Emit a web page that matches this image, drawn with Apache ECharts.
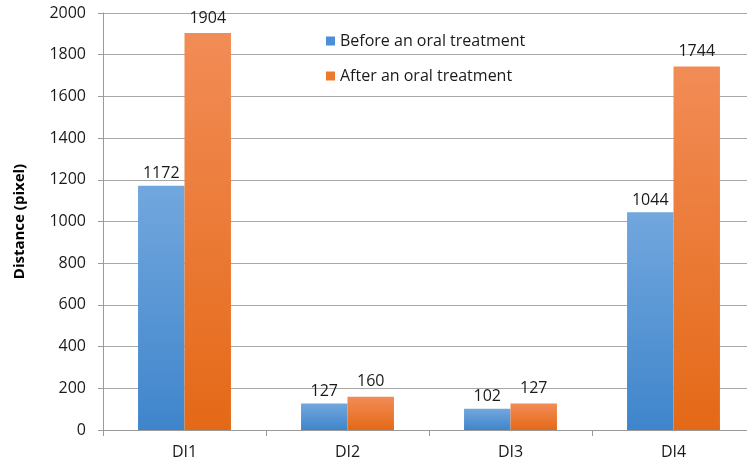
<!DOCTYPE html>
<html>
<head>
<meta charset="utf-8">
<script src="https://cdn.jsdelivr.net/npm/echarts@6/dist/echarts.min.js"></script>
<style>
  html, body { margin: 0; padding: 0; background: #fff; overflow: hidden; }
  /* the plot runs a little past the right edge in the original, so the canvas is wider than the window */
  #chart { width: 755px; height: 465px; }
</style>
</head>
<body>
<div id="chart"></div>
<script>
const categories = ['DI1', 'DI2', 'DI3', 'DI4']
const seriesNames = ['Before an oral treatment', 'After an oral treatment']
const beforeValues = [1172, 127, 102, 1044]
const afterValues = [1904, 160, 127, 1744]

const font = 'Open Sans'

function grad (top, bottom) {
  return new echarts.graphic.LinearGradient(0, 0, 0, 1, [
    { offset: 0, color: top },
    { offset: 1, color: bottom }
  ])
}

const chart = echarts.init(document.getElementById('chart'))
chart.setOption({
  animation: false,
  backgroundColor: '#fff',
  textStyle: { fontFamily: font },
  grid: { left: 103, right: 0, top: 13, bottom: 35, containLabel: false },
  legend: {
    orient: 'vertical',
    left: 321,
    top: 27,
    itemWidth: 9,
    itemHeight: 9,
    itemGap: 17,
    icon: 'rect',
    textStyle: { fontFamily: font, fontSize: 16, color: '#1a1a1a', lineHeight: 18 },
    data: [
      { name: seriesNames[0], itemStyle: { color: '#4d8fd6' } },
      { name: seriesNames[1], itemStyle: { color: '#ee7a2c' } }
    ]
  },
  xAxis: {
    type: 'category',
    data: categories,
    axisLine: { lineStyle: { color: '#9a9a9a', width: 1 } },
    axisTick: { show: true, length: 6, lineStyle: { color: '#9a9a9a' } },
    axisLabel: { fontFamily: font, fontSize: 16, color: '#1a1a1a', margin: 14 }
  },
  yAxis: {
    type: 'value',
    min: 0,
    max: 2000,
    interval: 200,
    name: 'Distance (pixel)',
    nameLocation: 'middle',
    nameGap: 76,
    nameTextStyle: { fontFamily: font, fontSize: 15, fontWeight: 'bold', color: '#000' },
    axisLine: { show: true, lineStyle: { color: '#9a9a9a' } },
    axisTick: { show: true, length: 5, lineStyle: { color: '#9a9a9a' } },
    axisLabel: { fontFamily: font, fontSize: 16, color: '#1a1a1a', margin: 17, formatter: v => String(v) },
    splitLine: { show: true, lineStyle: { color: '#a8a8a8', width: 1 } }
  },
  series: [
    {
      name: seriesNames[0],
      type: 'bar',
      data: beforeValues,
      barGap: '0%',
      barCategoryGap: '43%',
      itemStyle: { color: grad('#72a7de', '#3f85cb') },
      label: { show: true, position: 'top', distance: 4, fontFamily: font, fontSize: 16, color: '#1a1a1a' }
    },
    {
      name: seriesNames[1],
      type: 'bar',
      data: afterValues,
      barGap: '0%',
      barCategoryGap: '43%',
      itemStyle: { color: grad('#f28c56', '#e46917') },
      label: { show: true, position: 'top', distance: 7, fontFamily: font, fontSize: 16, color: '#1a1a1a' }
    }
  ]
})
</script>
</body>
</html>
